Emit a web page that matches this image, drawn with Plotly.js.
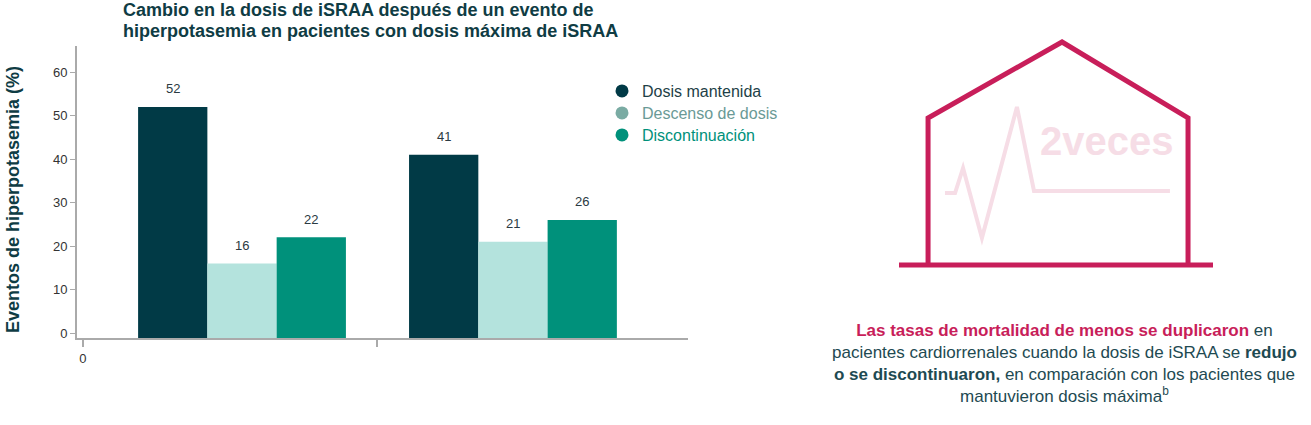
<!DOCTYPE html>
<html>
<head>
<meta charset="utf-8">
<script src="https://cdn.plot.ly/plotly-3.0.1.min.js"></script>
<style>
  body { margin: 0; background: #fff; }
  #chart { width: 1311px; height: 425px; }
</style>
</head>
<body>
<div id="chart"></div>
<script>
// values
const series = ['Dosis mantenida', 'Descenso de dosis', 'Discontinuación']
const groups = [1, 2]
const mantenida = [52, 41]
const descenso = [16, 21]
const discontinuacion = [22, 26]

const barColors = ['#013a46', '#b4e3dd', '#00917b']
const dotColors = ['#013a46', '#7aaba3', '#00917b']
const nameColors = ['#1e3f47', '#6a9a96', '#00917b']

const W = 1311, H = 425
const base = -1.15
const bargap = 0.233

// px -> paper helpers for the drawing on the right
function px(x){ return x / W }
function py(y){ return 1 - y / H }
function path(pts){
    return pts.map((p, i) => (i ? 'L' : 'M') + px(p[0]).toFixed(4) + ',' + py(p[1]).toFixed(4)).join(' ')
}

let values = [mantenida, descenso, discontinuacion]
let traces = []
let labels = []
let barW = (1 - bargap) / series.length
for (let i = 0; i < series.length; i++) {
    traces.push({
        type: 'bar',
        x: groups,
        y: values[i].map(v => v - base),
        base: base,
        marker: {color: barColors[i]},
        showlegend: false,
        hoverinfo: 'skip'
    })
    // value labels sit a bit higher than plotly's own outside text
    for (let g = 0; g < groups.length; g++) {
        labels.push({
            xref: 'x', yref: 'y',
            x: groups[g] + (i - 1) * barW,
            y: values[i][g],
            yshift: 18,
            showarrow: false,
            text: String(values[i][g]),
            font: {size: 13, color: '#2b3a42'}
        })
    }
}

// legend dots, one legend per row so the rows can sit tighter
const legendIds = ['legend', 'legend2', 'legend3']
const legendRows = [91, 113, 135]
for (let i = 0; i < series.length; i++) {
    traces.push({
        type: 'scatter',
        mode: 'markers',
        x: [null],
        y: [null],
        legend: legendIds[i],
        name: '<span style="color:' + nameColors[i] + '">' + series[i] + '</span>',
        marker: {color: dotColors[i], size: 13, symbol: 'circle'}
    })
}

let house = [[928, 265], [928, 118], [1062, 42], [1188, 118], [1188, 265]]
let ecg = [[945, 193], [955, 193], [963, 168], [982, 238], [1017, 107], [1034, 191], [1170, 191]]

let layout = {
    width: W,
    height: H,
    margin: {l: 0, r: 0, t: 0, b: 0},
    paper_bgcolor: '#fff',
    plot_bgcolor: '#fff',
    font: {family: 'Liberation Sans, Arial, sans-serif', color: '#333'},
    barmode: 'group',
    bargap: bargap,
    bargroupgap: 0,
    showlegend: true,
    xaxis: {
        domain: [px(77), px(688)],
        range: [0.391, 2.646],
        tickvals: [0.413, 1.5],
        ticktext: ['0', ''],
        ticks: 'outside',
        ticklen: 7,
        tickcolor: '#aaa',
        tickwidth: 2,
        showline: true,
        linecolor: '#aaa',
        linewidth: 2,
        showgrid: false,
        zeroline: false,
        tickfont: {size: 13, color: '#333'}
    },
    yaxis: {
        domain: [py(338), py(46)],
        range: [base, 66],
        tickvals: [0, 10, 20, 30, 40, 50, 60],
        ticks: 'outside',
        ticklen: 5,
        tickcolor: '#aaa',
        showline: true,
        linecolor: '#aaa',
        linewidth: 2,
        showgrid: false,
        zeroline: false,
        tickfont: {size: 13, color: '#333'}
    },
    annotations: labels.concat([
        {
            xref: 'paper', yref: 'paper', x: px(121), y: py(10),
            xanchor: 'left', yanchor: 'middle', showarrow: false,
            text: '<b>Cambio en la dosis de iSRAA después de un evento de</b>',
            font: {size: 18, color: '#0f3c44'}
        },
        {
            xref: 'paper', yref: 'paper', x: px(121), y: py(31),
            xanchor: 'left', yanchor: 'middle', showarrow: false,
            text: '<b>hiperpotasemia en pacientes con dosis máxima de iSRAA</b>',
            font: {size: 18, color: '#0f3c44'}
        },
        {
            xref: 'paper', yref: 'paper', x: px(13), y: py(200),
            xanchor: 'center', yanchor: 'middle', showarrow: false, textangle: -90,
            text: '<b>Eventos de hiperpotasemia (%)</b>',
            font: {size: 18, color: '#0f3c44'}
        },
        {
            xref: 'paper', yref: 'paper', x: px(1106), y: py(141),
            xanchor: 'center', yanchor: 'middle', showarrow: false,
            text: '<b>2veces</b>',
            font: {size: 40, color: '#f6dde6'}
        },
        {
            xref: 'paper', yref: 'paper', x: px(1064), y: py(319),
            xanchor: 'center', yanchor: 'top', align: 'center', showarrow: false,
            text: '<b><span style="color:#c81e5a">Las tasas de mortalidad de menos se duplicaron</span></b> en<br>' +
                  'pacientes cardiorrenales cuando la dosis de iSRAA se <b>redujo</b><br>' +
                  '<b>o se discontinuaron,</b> en comparación con los pacientes que<br>' +
                  'mantuvieron dosis máxima<sup>b</sup>',
            font: {size: 17, color: '#1e4a52'}
        }
    ]),
    shapes: [
        {type: 'path', xref: 'paper', yref: 'paper', path: path(ecg), line: {color: '#f6dde6', width: 4}},
        {type: 'path', xref: 'paper', yref: 'paper', path: path(house), line: {color: '#c81e5a', width: 5}},
        {type: 'line', xref: 'paper', yref: 'paper', x0: px(899), y0: py(265), x1: px(1213), y1: py(265), line: {color: '#c81e5a', width: 5}}
    ]
}

for (let i = 0; i < legendIds.length; i++) {
    layout[legendIds[i]] = {
        x: px(602), y: py(legendRows[i]), xanchor: 'left', yanchor: 'middle',
        font: {size: 16},
        itemclick: false,
        itemwidth: 30,
        bgcolor: 'rgba(0,0,0,0)'
    }
}

Plotly.newPlot('chart', traces, layout, {displayModeBar: false, staticPlot: true})
</script>
</body>
</html>
